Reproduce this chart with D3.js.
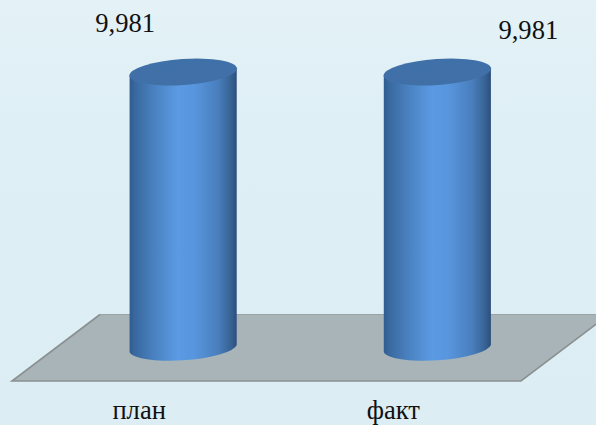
<!DOCTYPE html>
<html><head><meta charset="utf-8"><script src="https://cdnjs.cloudflare.com/ajax/libs/d3/7.8.5/d3.min.js"></script>
<style>html,body{margin:0;padding:0;background:#dceef5;overflow:hidden}svg{display:block}text{font-family:"Liberation Serif",serif;fill:#111}</style></head>
<body><svg id="c" width="596" height="425"></svg>
<script>
const categories = ["план", "факт"];
const values = [9.981, 9.981];
const valueLabels = ["9,981", "9,981"];

const svg = d3.select("#c"), defs = svg.append("defs");
const W = 596, H = 425;
const x = d3.scaleBand().domain(categories).range([56, 564.5]).paddingInner(0.5785).paddingOuter(0.2895);
const y = d3.scaleLinear().domain([0, 10]).range([348.5, 71.5]);

const bg = defs.append("linearGradient").attr("id","bg").attr("x1",0).attr("x2",0).attr("y1",0).attr("y2",1);
[[0,"#e4f2f7"],[0.3,"#deeff5"],[1,"#dceef4"]].forEach(s=>bg.append("stop").attr("offset",s[0]).attr("stop-color",s[1]));
const side = defs.append("linearGradient").attr("id","side").attr("x1",0).attr("x2",1).attr("y1",0).attr("y2",0);
[[0,"#2f5d90"],[0.05,"#38699f"],[0.25,"#4c84c4"],[0.45,"#5b9ae3"],[0.6,"#5896de"],[0.82,"#4a7fbe"],[0.94,"#386496"],[1,"#2b4f7c"]]
  .forEach(s=>side.append("stop").attr("offset",s[0]).attr("stop-color",s[1]));
const cap = defs.append("linearGradient").attr("id","cap").attr("x1",0).attr("x2",0).attr("y1",0).attr("y2",1);
[[0,"#3f70a8"],[1,"#416fa6"]].forEach(s=>cap.append("stop").attr("offset",s[0]).attr("stop-color",s[1]));
defs.append("filter").attr("id","soft").attr("x","-5%").attr("y","-5%").attr("width","110%").attr("height","110%")
  .append("feGaussianBlur").attr("stdDeviation",0.6);

svg.append("rect").attr("width",W).attr("height",H).attr("fill","url(#bg)");

const floorLine = d3.line();
const floorPts = [[12,381],[521,381],[609,314.5],[100,314.5]];
svg.append("path").attr("d",floorLine(floorPts)+"Z").attr("fill","#a8b4b8");
svg.append("path").attr("d",floorLine([[100,314.5],[12,381],[521,381],[609,314.5]])).attr("fill","none").attr("stroke","#8b9091").attr("stroke-width",1.6);
svg.append("path").attr("d",floorLine([[100,314.5],[609,314.5]])).attr("fill","none").attr("stroke","#9aa3a5").attr("stroke-width",1.2);

const A = 53.9, B = 13, rot = -3.94, dy = 3.5;
categories.forEach((c,i)=>{
  const w = x.bandwidth(), l = x(c), r = l + w, cx = l + w/2;
  const yb = y(0), yt = y(values[i]);
  const g = svg.append("g").attr("filter","url(#soft)");
  g.append("path")
    .attr("d",`M${l},${yt+dy}L${l},${yb+dy}A${A},${B} ${rot} 0 0 ${r},${yb-dy}L${r},${yt-dy}A${A},${B} ${rot} 0 0 ${l},${yt+dy}Z`)
    .attr("fill","url(#side)");
  g.append("ellipse").attr("cx",0).attr("cy",0).attr("rx",A).attr("ry",B)
    .attr("transform",`translate(${cx},${yt}) rotate(${rot})`).attr("fill","url(#cap)");
});

const labelDx = [-58, 91], labelBase = [32, 39], catDx = -44;
svg.selectAll(".v").data(values).join("text").attr("class","v")
  .attr("x",(d,i)=>x(categories[i])+x.bandwidth()/2+labelDx[i]).attr("y",(d,i)=>labelBase[i])
  .attr("text-anchor","middle").attr("font-size",26.6).text((d,i)=>valueLabels[i]);
svg.selectAll(".c").data(categories).join("text").attr("class","c")
  .attr("x",d=>x(d)+x.bandwidth()/2+catDx).attr("y",419.2)
  .attr("text-anchor","middle").attr("font-size",26.6).text(d=>d);
</script></body></html>
